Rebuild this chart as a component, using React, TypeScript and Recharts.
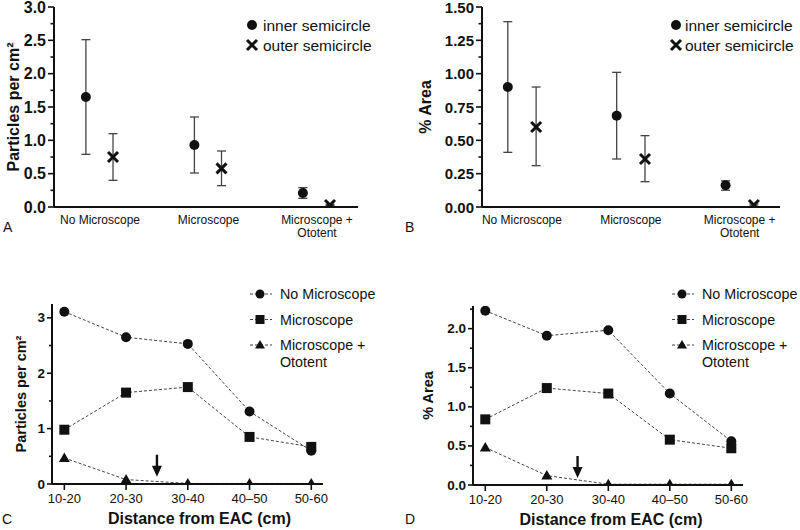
import React from "react";
import {
  ErrorBar,
  Label,
  Legend,
  Line,
  LineChart,
  ReferenceDot,
  Scatter,
  ScatterChart,
  XAxis,
  YAxis,
} from "recharts";

const FONT = "'Liberation Sans', Arial, Helvetica, sans-serif";
const INK = "#111";
const BAR = "#444";

// top row: group means with error-bar limits
const groups = ["No Microscope", "Microscope", "Microscope +\nOtotent"];

const aInnerMean = [1.65, 0.93, 0.21];
const aInnerHigh = [2.51, 1.35, 0.29];
const aInnerLow = [0.79, 0.51, 0.13];
const aOuterMean = [0.75, 0.58, 0.03];
const aOuterHigh = [1.1, 0.84, 0.04];
const aOuterLow = [0.4, 0.32, 0.02];

const bInnerMean = [0.9, 0.685, 0.163];
const bInnerHigh = [1.39, 1.01, 0.196];
const bInnerLow = [0.41, 0.36, 0.126];
const bOuterMean = [0.6, 0.36, 0.015];
const bOuterHigh = [0.9, 0.535, 0.022];
const bOuterLow = [0.31, 0.19, 0.008];

// bottom row: values per distance band
const distances = ["10-20", "20-30", "30-40", "40\u201350", "50-60"];

const cNoMicro = [3.11, 2.65, 2.53, 1.31, 0.6];
const cMicro = [0.98, 1.65, 1.75, 0.85, 0.67];
const cOtotent = [0.47, 0.08, 0.01, 0.01, 0.01];

const dNoMicro = [2.23, 1.91, 1.98, 1.17, 0.56];
const dMicro = [0.84, 1.24, 1.17, 0.58, 0.47];
const dOtotent = [0.48, 0.12, 0.01, 0.01, 0.01];

// tick values (major ones get a label)
const aTicks = [0, 0.25, 0.5, 0.75, 1, 1.25, 1.5, 1.75, 2, 2.25, 2.5, 2.75, 3];
const aMajor = [0, 0.5, 1, 1.5, 2, 2.5, 3];
const bTicks = [0, 0.125, 0.25, 0.375, 0.5, 0.625, 0.75, 0.875, 1, 1.125, 1.25, 1.375, 1.5];
const bMajor = [0, 0.25, 0.5, 0.75, 1, 1.25, 1.5];
const cTicks = [0, 0.5, 1, 1.5, 2, 2.5, 3];
const cMajor = [0, 1, 2, 3];
const dTicks = [0, 0.25, 0.5, 0.75, 1, 1.25, 1.5, 1.75, 2, 2.25];
const dMajor = [0, 0.5, 1, 1.5, 2];

// arrow sits between 20-30 and 30-40
const arrowAt = 1.5;
const cArrowY = 0.33;
const dArrowY = 0.23;

const pointRows = (mean: number[], high: number[], low: number[], shift: number) =>
  mean.map((m, i) => ({ x: i + shift, y: m, err: [m - low[i], high[i] - m] }));

const bandRows = (a: number[], b: number[], c: number[]) =>
  distances.map((_, i) => ({ x: i, none: a[i], micro: b[i], oto: c[i] }));

function yTick(major: number[], digits: number, size: number, majorLen: number, minorLen: number) {
  return (props: any) => {
    const { x, y, payload } = props;
    const v = payload.value as number;
    const isMajor = major.some((m) => Math.abs(m - v) < 1e-6);
    return (
      <g>
        <line x1={x} x2={x - (isMajor ? majorLen : minorLen)} y1={y} y2={y} stroke={INK} strokeWidth={1.6} />
        {isMajor && (
          <text x={x - majorLen - 2} y={y} textAnchor="end" dominantBaseline="central" fontSize={size} fontWeight="bold" fontFamily={FONT} fill={INK}>
            {v.toFixed(digits)}
          </text>
        )}
      </g>
    );
  };
}

const GroupTick = (props: any) => {
  const { x, y, payload } = props;
  const lines = (groups[payload.value] || "").split("\n");
  return (
    <text x={x} y={y + 17} textAnchor="middle" fontSize={12} fontFamily={FONT} fill={INK}>
      {lines.map((l, i) => (
        <tspan key={i} x={x} dy={i ? 13 : 0}>{l}</tspan>
      ))}
    </text>
  );
};

const BandTick = (props: any) => {
  const { x, y, payload } = props;
  return (
    <g>
      <line x1={x} x2={x} y1={y} y2={y + 6} stroke={INK} strokeWidth={1.6} />
      <text x={x} y={y + 19} textAnchor="middle" fontSize={13} fontFamily={FONT} fill={INK}>
        {distances[payload.value]}
      </text>
    </g>
  );
};

const yTitle = (text: string, dx: number, size: number) => (props: any) => {
  const vb = props.viewBox;
  const cx = vb.x + dx;
  const cy = vb.y + vb.height / 2;
  return (
    <text x={cx} y={cy} transform={`rotate(-90 ${cx} ${cy})`} textAnchor="middle" dominantBaseline="central" fontSize={size} fontWeight="bold" fontFamily={FONT} fill={INK}>
      {text}
    </text>
  );
};

const xTitle = (text: string, dx: number, top: number) => (props: any) => {
  const vb = props.viewBox;
  return (
    <text x={vb.x + vb.width / 2 + dx} y={vb.y + top} textAnchor="middle" dominantBaseline="central" fontSize={16} fontWeight="bold" fontFamily={FONT} fill={INK}>
      {text}
    </text>
  );
};

const InnerDot = (p: any) => <circle cx={p.cx} cy={p.cy} r={5} fill={INK} />;
const OuterCross = (p: any) => (
  <g stroke={INK} strokeWidth={3}>
    <line x1={p.cx - 5} y1={p.cy - 5} x2={p.cx + 5} y2={p.cy + 5} />
    <line x1={p.cx - 5} y1={p.cy + 5} x2={p.cx + 5} y2={p.cy - 5} />
  </g>
);

const circleDot = (p: any) => <circle key={`c${p.index}`} cx={p.cx} cy={p.cy} r={5} fill={INK} />;
const squareDot = (p: any) => <rect key={`s${p.index}`} x={p.cx - 5} y={p.cy - 5} width={10} height={10} fill={INK} />;
const triangleDot = (p: any) => (
  <polygon key={`t${p.index}`} points={`${p.cx},${p.cy - 5.5} ${p.cx - 5.5},${p.cy + 4} ${p.cx + 5.5},${p.cy + 4}`} fill={INK} />
);

const Arrow = (p: any) => (
  <g fill={INK}>
    <rect x={p.cx - 1.2} y={p.cy - 11} width={2.4} height={12} />
    <polygon points={`${p.cx - 5},${p.cy} ${p.cx + 5},${p.cy} ${p.cx},${p.cy + 11}`} />
  </g>
);

const SemicircleKey = ({ textX }: { textX: number }) => (
  <svg width={150} height={50}>
    <circle cx={12} cy={15} r={5} fill={INK} />
    <g stroke={INK} strokeWidth={3}>
      <line x1={7} y1={30} x2={17} y2={40} />
      <line x1={7} y1={40} x2={17} y2={30} />
    </g>
    <text x={textX} y={15} dominantBaseline="central" fontSize={15.5} fontFamily={FONT} fill={INK}>inner semicircle</text>
    <text x={textX} y={35} dominantBaseline="central" fontSize={15.5} fontFamily={FONT} fill={INK}>outer semicircle</text>
  </svg>
);

const GroupKey = ({ textX }: { textX: number }) => {
  const rows = [10, 35.5, 61];
  const fs = 14.3;
  return (
    <svg width={160} height={90}>
      {rows.map((ry) => (
        <line key={ry} x1={10} x2={32} y1={ry} y2={ry} stroke={BAR} strokeWidth={1} strokeDasharray="3 2" />
      ))}
      <circle cx={20} cy={rows[0]} r={4.5} fill={INK} />
      <rect x={15.5} y={rows[1] - 4.5} width={9} height={9} fill={INK} />
      <polygon points={`20,${rows[2] - 5} 15,${rows[2] + 3.5} 25,${rows[2] + 3.5}`} fill={INK} />
      <text x={textX} y={rows[0]} dominantBaseline="central" fontSize={fs} fontFamily={FONT} fill={INK}>No Microscope</text>
      <text x={textX} y={rows[1]} dominantBaseline="central" fontSize={fs} fontFamily={FONT} fill={INK}>Microscope</text>
      <text x={textX} y={rows[2]} dominantBaseline="central" fontSize={fs} fontFamily={FONT} fill={INK}>Microscope +</text>
      <text x={textX} y={rows[2] + 17} dominantBaseline="central" fontSize={fs} fontFamily={FONT} fill={INK}>Ototent</text>
    </svg>
  );
};

const axisLine = { stroke: INK, strokeWidth: 2 };

function DotPanel(props: {
  inner: any[];
  outer: any[];
  domainY: [number, number];
  ticks: number[];
  major: number[];
  digits: number;
  tickSize: number;
  title: string;
  titleX: number;
  yWidth: number;
  xDomain: [number, number];
  right: number;
  legendLeft: number;
  legendTextX: number;
}) {
  return (
    <ScatterChart width={400} height={260} margin={{ top: 7, right: props.right, bottom: 13, left: 0 }}>
      <XAxis type="number" dataKey="x" domain={props.xDomain} ticks={[0, 1, 2]} interval={0} allowDataOverflow tick={GroupTick} tickLine={false} tickSize={0} tickMargin={0} axisLine={axisLine} height={40} />
      <YAxis type="number" dataKey="y" domain={props.domainY} ticks={props.ticks} interval={0} allowDataOverflow tick={yTick(props.major, props.digits, props.tickSize, 6, 3.5)} tickLine={false} tickSize={0} tickMargin={0} axisLine={axisLine} width={props.yWidth}>
        <Label content={yTitle(props.title, props.titleX, 16)} />
      </YAxis>
      <Legend layout="vertical" align="center" verticalAlign="middle" wrapperStyle={{ top: 10, left: props.legendLeft, width: 150, height: 50 }} content={() => <SemicircleKey textX={props.legendTextX} />} />
      <Scatter data={props.inner} shape={InnerDot} isAnimationActive={false}>
        <ErrorBar dataKey="err" direction="y" width={4.5} stroke={BAR} strokeWidth={1.3} isAnimationActive={false} />
      </Scatter>
      <Scatter data={props.outer} shape={OuterCross} isAnimationActive={false}>
        <ErrorBar dataKey="err" direction="y" width={4.5} stroke={BAR} strokeWidth={1.3} isAnimationActive={false} />
      </Scatter>
    </ScatterChart>
  );
}

function LinePanel(props: {
  rows: any[];
  domainY: [number, number];
  ticks: number[];
  major: number[];
  digits: number;
  title: string;
  titleX: number;
  titleSize: number;
  yWidth: number;
  top: number;
  right: number;
  bottom: number;
  xTitleDx: number;
  arrowY: number;
  legendLeft: number;
}) {
  const dash = { stroke: BAR, strokeWidth: 1, strokeDasharray: "3 2" };
  return (
    <LineChart width={400} height={260} data={props.rows} margin={{ top: props.top, right: props.right, bottom: props.bottom, left: 0 }}>
      <XAxis type="number" dataKey="x" domain={[-0.2, 4.19]} ticks={[0, 1, 2, 3, 4]} interval={0} allowDataOverflow tick={BandTick} tickLine={false} tickSize={0} tickMargin={0} axisLine={axisLine} height={34}>
        <Label content={xTitle("Distance from EAC (cm)", props.xTitleDx, 34)} />
      </XAxis>
      <YAxis type="number" domain={props.domainY} ticks={props.ticks} interval={0} allowDataOverflow tick={yTick(props.major, props.digits, 13.5, 5, 3)} tickLine={false} tickSize={0} tickMargin={0} axisLine={axisLine} width={props.yWidth}>
        <Label content={yTitle(props.title, props.titleX, props.titleSize)} />
      </YAxis>
      <Legend layout="vertical" align="center" verticalAlign="middle" wrapperStyle={{ top: 14, left: props.legendLeft, width: 160, height: 90 }} content={() => <GroupKey textX={40} />} />
      <Line dataKey="oto" {...dash} dot={triangleDot} activeDot={false} isAnimationActive={false} />
      <Line dataKey="micro" {...dash} dot={squareDot} activeDot={false} isAnimationActive={false} />
      <Line dataKey="none" {...dash} dot={circleDot} activeDot={false} isAnimationActive={false} />
      <ReferenceDot x={arrowAt} y={props.arrowY} shape={Arrow} />
    </LineChart>
  );
}

const letter = (text: string, left: number, top: number) => (
  <div style={{ position: "absolute", left, top, fontSize: 14, fontFamily: FONT, color: INK, lineHeight: "14px" }}>{text}</div>
);

export default function App() {
  return (
    <div style={{ position: "absolute", left: 0, top: 0, width: 800, height: 530, background: "#fff", overflow: "hidden" }}>
      <div style={{ position: "absolute", left: 0, top: 0 }}>
        <DotPanel
          inner={pointRows(aInnerMean, aInnerHigh, aInnerLow, -0.13)}
          outer={pointRows(aOuterMean, aOuterHigh, aOuterLow, 0.12)}
          domainY={[0, 3]}
          ticks={aTicks}
          major={aMajor}
          digits={1}
          tickSize={16}
          title="Particles per cm²"
          titleX={13}
          yWidth={54}
          xDomain={[-0.424, 2.378]}
          right={42}
          legendLeft={240}
          legendTextX={23}
        />
      </div>
      <div style={{ position: "absolute", left: 400, top: 0 }}>
        <DotPanel
          inner={pointRows(bInnerMean, bInnerHigh, bInnerLow, -0.13)}
          outer={pointRows(bOuterMean, bOuterHigh, bOuterLow, 0.13)}
          domainY={[0, 1.5]}
          ticks={bTicks}
          major={bMajor}
          digits={2}
          tickSize={15}
          title="% Area"
          titleX={25}
          yWidth={82}
          xDomain={[-0.367, 2.37]}
          right={20}
          legendLeft={264}
          legendTextX={21}
        />
      </div>
      <div style={{ position: "absolute", left: 0, top: 270 }}>
        <LinePanel
          rows={bandRows(cNoMicro, cMicro, cOtotent)}
          domainY={[0, 3.25]}
          ticks={cTicks}
          major={cMajor}
          digits={0}
          title="Particles per cm²"
          titleX={21}
          titleSize={14.5}
          yWidth={52}
          top={34}
          right={77}
          bottom={12}
          xTitleDx={12}
          arrowY={cArrowY}
          legendLeft={240}
        />
      </div>
      <div style={{ position: "absolute", left: 400, top: 270 }}>
        <LinePanel
          rows={bandRows(dNoMicro, dMicro, dOtotent)}
          domainY={[0, 2.29]}
          ticks={dTicks}
          major={dMajor}
          digits={1}
          title="% Area"
          titleX={28}
          titleSize={14.5}
          yWidth={73}
          top={36}
          right={57}
          bottom={11}
          xTitleDx={3}
          arrowY={dArrowY}
          legendLeft={262}
        />
      </div>
      {letter("A", 3, 220)}
      {letter("B", 405, 220)}
      {letter("C", 2, 512)}
      {letter("D", 405, 512)}
    </div>
  );
}
